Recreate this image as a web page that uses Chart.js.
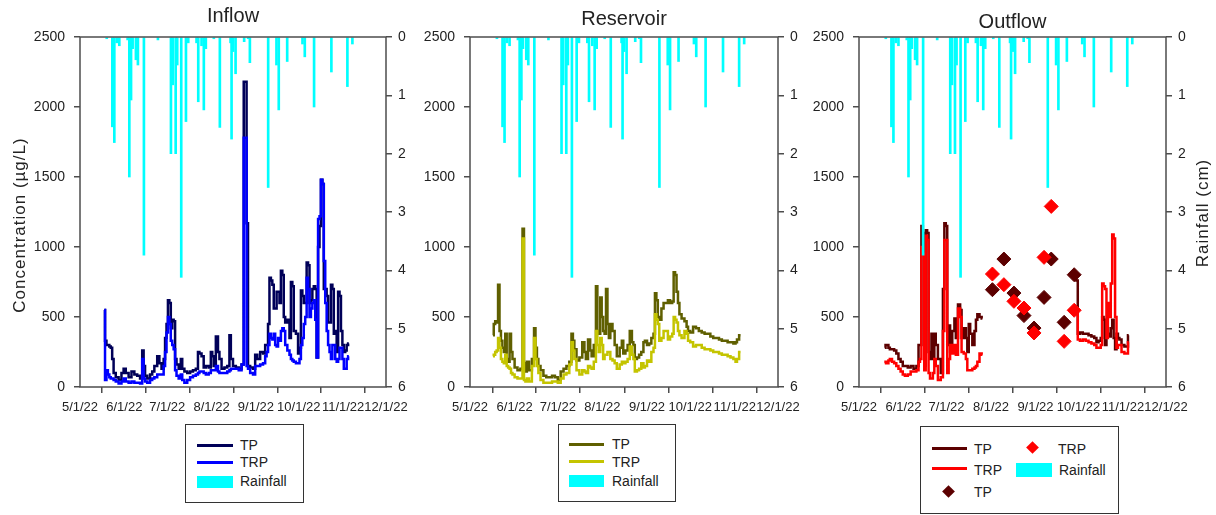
<!DOCTYPE html>
<html>
<head>
<meta charset="utf-8">
<script src="https://cdn.jsdelivr.net/npm/chart.js@4/dist/chart.umd.min.js"></script>
<style>
    body {
        margin: 0;
        width: 1216px;
        height: 515px;
        background: #fff;
        position: relative;
        overflow: hidden;
        font-family: 'Liberation Sans', Arial, sans-serif;
        color: #222;
    }
    canvas { position: absolute; top: 0; }
    .box { position: absolute; border: 1.5px solid #333; box-sizing: border-box; }
    .ln { position: absolute; height: 3px; }
    .sw { position: absolute; background: #00ffff; }
    .dm { position: absolute; width: 9px; height: 9px; transform: rotate(45deg); }
    .tx { position: absolute; font-size: 14px; line-height: 16px; white-space: nowrap; }
</style>
</head>
<body>
<canvas id="inflow" width="420" height="420" style="left:0px"></canvas>
<canvas id="reservoir" width="400" height="420" style="left:410px"></canvas>
<canvas id="outflow" width="406" height="420" style="left:810px"></canvas>

<!-- legend: Inflow -->
<div class="box" style="left:185px;top:424px;width:119px;height:79px"></div>
<div class="ln" style="left:197px;top:444px;width:36px;background:#000058"></div>
<div class="tx" style="left:240px;top:437px">TP</div>
<div class="ln" style="left:197px;top:461px;width:36px;background:#0000ff"></div>
<div class="tx" style="left:240px;top:454px">TRP</div>
<div class="sw" style="left:197px;top:476px;width:36px;height:12px"></div>
<div class="tx" style="left:240px;top:473px">Rainfall</div>

<!-- legend: Reservoir -->
<div class="box" style="left:558px;top:424px;width:118px;height:78px"></div>
<div class="ln" style="left:569px;top:443px;width:35px;background:#5f5f00"></div>
<div class="tx" style="left:612px;top:436px">TP</div>
<div class="ln" style="left:569px;top:460px;width:35px;background:#c4c400"></div>
<div class="tx" style="left:612px;top:454px">TRP</div>
<div class="sw" style="left:569px;top:475px;width:35px;height:12px"></div>
<div class="tx" style="left:612px;top:473px">Rainfall</div>

<!-- legend: Outflow -->
<div class="box" style="left:920px;top:426px;width:199px;height:88px"></div>
<div class="ln" style="left:932px;top:447px;width:35px;background:#5c0000"></div>
<div class="tx" style="left:974px;top:441px">TP</div>
<div class="ln" style="left:932px;top:467px;width:35px;background:#ff0000"></div>
<div class="tx" style="left:974px;top:462px">TRP</div>
<div class="dm" style="left:944px;top:487px;background:#5c0000"></div>
<div class="tx" style="left:974px;top:484px">TP</div>
<div class="dm" style="left:1028px;top:443px;background:#ff0000"></div>
<div class="tx" style="left:1058px;top:441px">TRP</div>
<div class="sw" style="left:1016px;top:463px;width:36px;height:14px"></div>
<div class="tx" style="left:1059px;top:462px">Rainfall</div>

<script>
// ====== DATA (x = days since 5/1/22) ======
const monthDays = [0, 31, 61, 92, 123, 153, 184, 214]
const monthLabels = ['5/1/22', '6/1/22', '7/1/22', '8/1/22', '9/1/22', '10/1/22', '11/1/22', '12/1/22']

// rainfall (cm), same gauge for all three panels
const rainDays = [
    18.7, 22.6, 24.0, 25.7, 27.5, 33.3, 34.5, 35.7, 36.8, 39.1,
    40.5, 44.7, 54.5, 63.6, 64.8, 66.9, 68.0, 70.8, 74.1, 75.7,
    81.5, 82.7, 85.0, 86.6, 88.0, 93.6, 97.8, 105.3, 106.0, 107.1,
    108.8, 114.8, 117.6, 118.8, 131.6, 137.4, 139.0, 144.9, 155.6, 157.2,
    163.7, 175.8, 187.0, 190.5,
]
const rainCm = [
    0.03, 1.54, 1.81, 0.1, 0.15, 0.05, 2.4, 1.08, 0.2, 0.39,
    0.48, 3.74, 0.05, 2.0, 0.82, 2.0, 0.48, 4.12, 1.45, 0.1,
    0.1, 1.11, 0.15, 1.25, 0.2, 0.03, 1.55, 0.1, 1.75, 0.25,
    0.63, 0.08, 0.03, 0.44, 2.58, 0.48, 1.25, 0.42, 0.12, 0.34,
    1.2, 0.6, 0.85, 0.12,
]

// Inflow (ug/L)
const inflowDays = [
    17, 18, 19, 20, 21, 22, 23, 24, 26, 28,
    30, 31, 33, 35, 37, 39, 41, 43, 44, 45,
    46, 48, 50, 51, 53, 55, 56, 58, 59, 60,
    61, 62, 63, 64, 65, 66, 67, 68, 70, 71,
    72, 74, 76, 78, 80, 82, 83, 84, 86, 87,
    89, 91, 92, 93, 94, 96, 97, 98, 100, 102,
    104, 105, 106, 108, 110, 112, 114, 115, 116, 117,
    118, 120, 122, 123, 125, 127, 129, 130, 131, 132,
    133, 134, 135, 136, 137, 138, 139, 140, 141, 142,
    143, 144, 146, 147, 148, 149, 150, 152, 153, 154,
    155, 156, 157, 158, 159, 160, 161, 162, 163, 164,
    165, 166, 167, 168, 169, 170, 171, 172, 173, 174,
    175, 176, 177, 178, 179, 180, 181, 182, 183, 184,
    185, 186, 187, 188,
]
const inflowTP = [
    550, 330, 300, 300, 290, 280, 200, 100, 70, 50,
    100, 130, 100, 70, 110, 90, 80, 60, 260, 150,
    80, 60, 90, 110, 150, 220, 170, 130, 200, 350,
    450, 620, 600, 420, 480, 470, 200, 160, 130, 200,
    130, 110, 100, 110, 120, 130, 250, 240, 220, 140,
    150, 140, 250, 220, 150, 360, 250, 200, 130, 140,
    150, 370, 200, 150, 140, 130, 160, 2180, 2180, 1170,
    150, 140, 130, 230, 200, 250, 240, 300, 300, 450,
    780, 760, 730, 560, 560, 680, 680, 600, 830, 800,
    500, 460, 480, 350, 750, 720, 400, 380, 240, 280,
    690, 650, 600, 600, 890, 870, 600, 620, 700, 720,
    700, 210, 1000, 1150, 1480, 1450, 700, 700, 650, 460,
    460, 730, 700, 380, 400, 250, 680, 650, 400, 300,
    250, 260, 300, 310,
]
const inflowTRP = [
    550, 50, 120, 90, 70, 60, 60, 50, 40, 25,
    40, 60, 40, 30, 40, 30, 30, 25, 200, 60,
    40, 30, 50, 60, 70, 90, 90, 90, 150, 250,
    390, 500, 450, 330, 300, 270, 120, 80, 60, 90,
    50, 30, 50, 70, 80, 90, 100, 110, 110, 100,
    90, 100, 120, 120, 120, 150, 110, 100, 100, 100,
    110, 120, 130, 130, 130, 120, 160, 1780, 1780, 150,
    130, 100, 90, 150, 150, 160, 170, 220, 250, 300,
    380, 350, 340, 380, 300, 290, 350, 330, 400, 420,
    400, 300, 260, 230, 200, 190, 180, 170, 170, 200,
    300, 350, 450, 500, 780, 700, 500, 560, 600, 620,
    480, 210, 1200, 1220, 1480, 1450, 900, 600, 400, 300,
    250, 200, 300, 300, 200, 180, 200, 280, 280, 200,
    130, 130, 200, 220,
]

// Reservoir (ug/L)
const reservoirDays = [
    16, 17, 18, 19, 20, 21, 22, 23, 24, 25,
    26, 27, 28, 29, 30, 32, 34, 36, 37, 38,
    39, 40, 42, 44, 45, 46, 47, 48, 50, 52,
    54, 56, 58, 60, 62, 64, 66, 68, 70, 71,
    72, 73, 75, 77, 79, 80, 81, 83, 84, 85,
    87, 88, 89, 90, 91, 92, 93, 94, 95, 96,
    97, 98, 100, 101, 103, 105, 106, 107, 109, 110,
    112, 113, 114, 115, 117, 118, 120, 121, 122, 124,
    125, 127, 128, 129, 130, 131, 132, 134, 135, 137,
    138, 140, 141, 142, 143, 144, 145, 146, 148, 150,
    151, 152, 154, 156, 158, 160, 162, 164, 166, 168,
    170, 172, 174, 176, 178, 180, 182, 184, 185, 186,
    188,
]
const reservoirTP = [
    370, 450, 470, 460, 730, 400, 330, 280, 250, 380,
    200, 180, 380, 250, 200, 140, 120, 130, 1130, 170,
    110, 180, 120, 200, 420, 280, 200, 150, 120, 80,
    70, 70, 80, 70, 50, 110, 130, 150, 180, 380,
    330, 270, 190, 210, 320, 250, 200, 340, 260, 220,
    300, 720, 400, 380, 640, 500, 400, 380, 700, 450,
    350, 450, 400, 300, 220, 280, 330, 240, 260, 300,
    400, 320, 300, 200, 210, 230, 250, 320, 330, 300,
    310, 350, 380, 670, 620, 500, 480, 560, 600, 600,
    620, 600, 610, 820, 800, 680, 600, 520, 490, 470,
    430, 400, 390, 430, 420, 400, 390, 380, 380, 360,
    350, 350, 340, 330, 330, 320, 320, 310, 320, 340,
    370,
]
const reservoirTRP = [
    220, 230, 250, 260, 350, 280, 200, 180, 170, 230,
    150, 140, 130, 100, 90, 70, 60, 60, 1060, 50,
    40, 60, 40, 150, 350, 200, 150, 100, 50, 30,
    30, 30, 40, 40, 30, 60, 90, 100, 160, 320,
    260, 200, 120, 90, 120, 110, 100, 150, 140, 130,
    180, 400, 300, 250, 350, 300, 200, 230, 230, 250,
    250, 200, 190, 170, 130, 160, 180, 170, 180, 200,
    290, 230, 200, 110, 120, 130, 170, 140, 150, 190,
    180, 250, 280, 520, 480, 450, 330, 350, 400, 400,
    340, 360, 380, 500, 480, 460, 400, 370, 350, 400,
    380, 330, 320, 290, 300, 300, 280, 270, 270, 260,
    250, 250, 240, 230, 230, 220, 210, 200, 180, 200,
    250,
]

// Outflow sonde (ug/L), null = gap in record
const outflowDays = [
    18, 19, 20, 21, 22, 24, 25, 27, 28, 30,
    31, 33, 35, 37, 39, 41, 42, 43, 44, 45,
    46, 47, 48, 49, 50, 51, 52, 53, 54, 56,
    58, 59, 60, 61, 62, 63, 64, 66, 67, 68,
    70, 71, 72, 74, 75, 76, 77, 78, 80, 81,
    82, 83, 85, 86, 120, 151, 152, 153, 155, 157,
    159, 161, 163, 165, 166, 168, 169, 170, 171, 172,
    173, 174, 175, 176, 177, 178, 179, 180, 181, 182,
    184, 186, 187, 188,
]
const outflowTP = [
    280, 300, 300, 280, 270, 270, 260, 240, 200, 180,
    150, 150, 140, 150, 130, 150, 300, 300, 1150, 1100,
    150, 1120, 1100, 250, 200, 380, 200, 380, 300, 200,
    100, 700, 1170, 1150, 300, 440, 250, 400, 490, 350,
    590, 550, 350, 420, 350, 250, 450, 380, 300, 400,
    480, 520, 500, 490, null, 790, 760, 380, 390, 380,
    380, 370, 360, 350, 320, 330, 350, 500, 480, 300,
    420, 380, 360, 420, 480, 350, 270, 380, 350, 340,
    300, 290, 290, 370,
]
const outflowTRP = [
    170, 180, 170, 190, 200, 180, 170, 150, 130, 110,
    90, 80, 90, 110, 110, 120, 180, 200, 1000, 950,
    120, 1080, 1050, 100, 60, 60, 100, 200, 150, 50,
    70, 400, 1050, 1050, 100, 200, 300, 240, 300, 230,
    560, 500, 250, 240, 200, 120, 120, 120, 130, 140,
    150, 180, 240, 230, null, 550, 520, 340, 330, 340,
    330, 320, 310, 300, 280, 280, 300, 740, 720, 700,
    350, 600, 500, 740, 1090, 1060, 500, 280, 300, 300,
    250, 240, 240, 320,
]

// Outflow grab samples (diamonds)
const grabDays = [93, 101, 108, 115, 122, 129, 134, 143, 150]
const grabTP = [695, 914, 671, 510, 421, 640, 914, 462, 802]
const grabTRP = [807, 731, 612, 564, 386, 926, 1290, 326, 548]

// ====== STYLE ======
const fontFamily = "'Liberation Sans', Arial, sans-serif"
const axisColor = '#4d4d4d'
Chart.defaults.font.family = fontFamily
Chart.defaults.color = '#222'

const pts = (days, vals) => days.map((d, i) => ({ x: d, y: vals[i] }))

const rainSet = () => ({
    type: 'bar',
    label: 'Rainfall',
    data: pts(rainDays, rainCm),
    yAxisID: 'y2',
    backgroundColor: '#00ffff',
    barThickness: 2,
    order: 0,
})

const lineSet = (label, days, vals, color, order) => ({
    label,
    data: pts(days, vals),
    yAxisID: 'y',
    borderColor: color,
    backgroundColor: color,
    borderWidth: 2.5,
    pointRadius: 0,
    stepped: 'middle',
    spanGaps: false,
    order,
})

const dotSet = (label, days, vals, color, order) => ({
    label,
    data: pts(days, vals),
    yAxisID: 'y',
    showLine: false,
    pointStyle: 'rectRot',
    pointRadius: 7,
    borderColor: color,
    backgroundColor: color,
    order,
})

// box round the plot area
const frame = {
    id: 'frame',
    afterDatasetsDraw(chart) {
        const { ctx, chartArea: a } = chart
        ctx.save()
        ctx.strokeStyle = axisColor
        ctx.lineWidth = 1.5
        ctx.strokeRect(a.left, a.top, a.right - a.left, a.bottom - a.top)
        ctx.restore()
    },
}

// rotated axis titles (both read bottom to top)
const sideTitle = {
    id: 'sideTitle',
    afterDraw(chart, args, opts) {
        if (!opts.text) return
        const ctx = chart.ctx
        ctx.save()
        ctx.translate(opts.x, opts.y)
        ctx.rotate(-Math.PI / 2)
        ctx.font = '17px ' + fontFamily
        ctx.letterSpacing = '1px'
        ctx.fillStyle = '#222'
        ctx.textAlign = 'center'
        ctx.textBaseline = 'middle'
        ctx.fillText(opts.text, 0, 0)
        ctx.restore()
    },
}

const tickGrid = {
    drawOnChartArea: false,
    tickLength: 6,
    color: axisColor,
    lineWidth: 1.5,
}

function makePanel(id, o) {
    const canvas = document.getElementById(id)
    return new Chart(canvas, {
        type: 'line',
        data: { datasets: o.datasets },
        plugins: [frame, sideTitle],
        options: {
            responsive: false,
            animation: false,
            events: [],
            layout: { padding: 0 },
            plugins: {
                legend: { display: false },
                tooltip: { enabled: false },
                title: {
                    display: true,
                    text: o.title,
                    fullSize: false,
                    color: '#222',
                    font: { size: 20, weight: 'normal' },
                    padding: { top: o.titleTop, bottom: 13 - o.titleTop },
                },
                sideTitle: o.sideTitle || {},
            },
            scales: {
                x: {
                    type: 'linear',
                    min: 0,
                    max: 214,
                    offset: false,
                    afterBuildTicks: (s) => {
                        s.ticks = monthDays.map((v) => ({ value: v }))
                    },
                    afterFit: (s) => {
                        s.height = canvas.height - 387
                        s.paddingLeft = 0
                        s.paddingRight = 0
                    },
                    ticks: {
                        autoSkip: false,
                        maxRotation: 0,
                        minRotation: 0,
                        padding: 7,
                        font: { size: 13 },
                        callback: (v, i) => monthLabels[i],
                    },
                    grid: tickGrid,
                    border: { display: false },
                },
                y: {
                    position: 'left',
                    min: 0,
                    max: 2500,
                    afterFit: (s) => {
                        s.width = o.leftW
                    },
                    ticks: {
                        stepSize: 500,
                        padding: 9,
                        font: { size: 14 },
                        callback: (v) => String(v),
                    },
                    grid: tickGrid,
                    border: { display: false },
                },
                y2: {
                    position: 'right',
                    reverse: true,
                    min: 0,
                    max: 6,
                    afterFit: (s) => {
                        s.width = canvas.width - o.rightX
                    },
                    ticks: {
                        stepSize: 1,
                        padding: 6,
                        font: { size: 14 },
                        callback: (v) => String(v),
                    },
                    grid: tickGrid,
                    border: { display: false },
                },
            },
        },
    })
}

// ====== PANELS ======
makePanel('inflow', {
    title: 'Inflow',
    titleTop: 4,
    leftW: 80,
    rightX: 386,
    sideTitle: { text: 'Concentration (µg/L)', x: 20, y: 225 },
    datasets: [
        rainSet(),
        lineSet('TRP', inflowDays, inflowTRP, '#0000ff', 3),
        lineSet('TP', inflowDays, inflowTP, '#000058', 4),
    ],
})

makePanel('reservoir', {
    title: 'Reservoir',
    titleTop: 7,
    leftW: 60,
    rightX: 368,
    datasets: [
        rainSet(),
        lineSet('TRP', reservoirDays, reservoirTRP, '#c4c400', 3),
        lineSet('TP', reservoirDays, reservoirTP, '#5f5f00', 4),
    ],
})

makePanel('outflow', {
    title: 'Outflow',
    titleTop: 10,
    leftW: 49,
    rightX: 356,
    sideTitle: { text: 'Rainfall (cm)', x: 393, y: 213 },
    datasets: [
        rainSet(),
        dotSet('TRP', grabDays, grabTRP, '#ff0000', 1),
        dotSet('TP', grabDays, grabTP, '#5c0000', 2),
        lineSet('TRP', outflowDays, outflowTRP, '#ff0000', 3),
        lineSet('TP', outflowDays, outflowTP, '#5c0000', 4),
    ],
})
</script>
</body>
</html>
